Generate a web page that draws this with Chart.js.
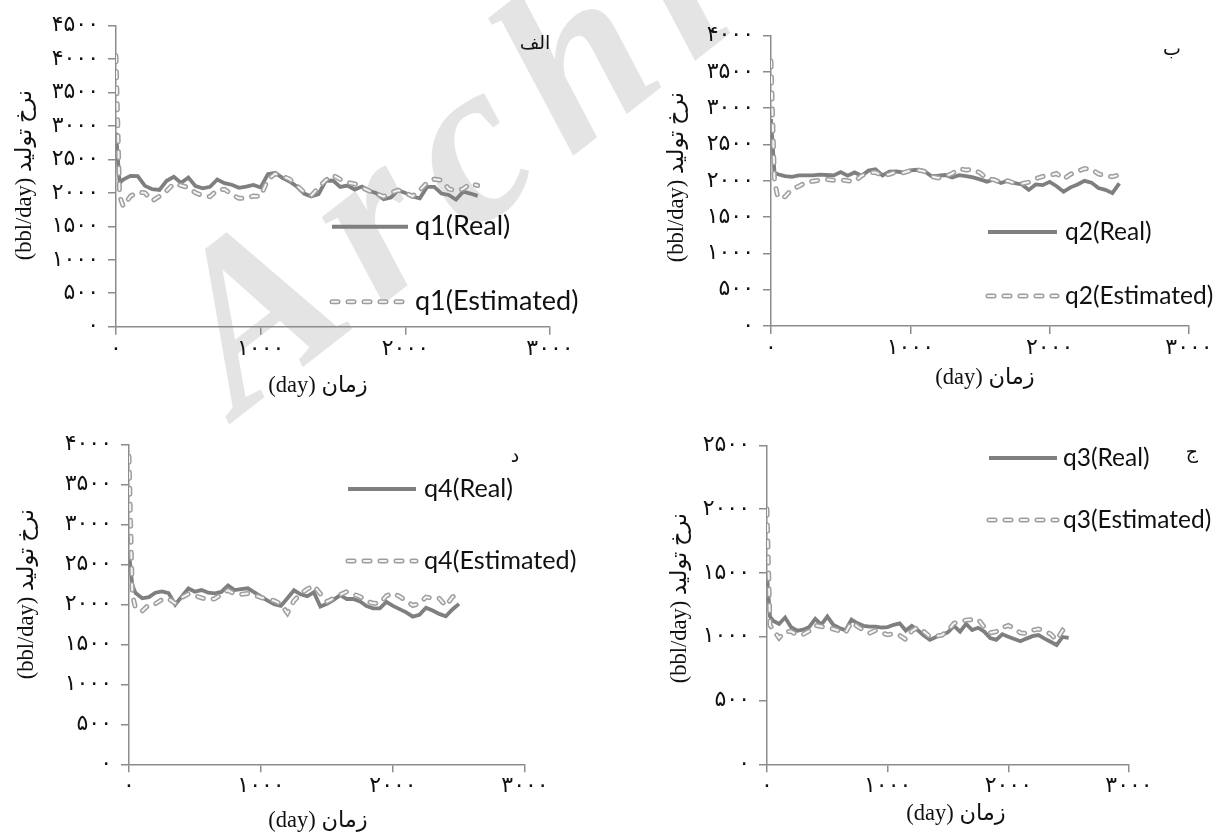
<!DOCTYPE html>
<html>
<head>
<meta charset="utf-8">
<script src="https://cdn.jsdelivr.net/npm/chart.js@4.4.0/dist/chart.umd.min.js"></script>
<style>
  body { margin: 0; background: #fff; width: 1221px; height: 834px; overflow: hidden; position: relative; }
  canvas { position: absolute; }
  .wm {
    position: absolute; left: 245px; top: 221px;
    font: italic bold 232px 'Liberation Serif', serif; color: #e4e4e4;
    line-height: 1; white-space: nowrap; letter-spacing: 24px;
    transform-origin: 0 204px; transform: rotate(-38deg);
  }
</style>
</head>
<body>
<div class="wm">Archive</div>
<canvas id="c1" width="610" height="417" style="left:0;top:0"></canvas>
<canvas id="c2" width="611" height="417" style="left:610px;top:0"></canvas>
<canvas id="c3" width="610" height="417" style="left:0;top:417px"></canvas>
<canvas id="c4" width="611" height="417" style="left:610px;top:417px"></canvas>
<script>
// time axis (day), shared by all four wells
const days = [0, 25, 50, 100, 150, 200, 250, 300, 350, 400, 450, 500, 550, 600, 650, 700, 750, 800, 850, 900,
  950, 1000, 1050, 1100, 1150, 1200, 1250, 1300, 1350, 1400, 1450, 1500, 1550, 1600, 1650, 1700, 1750, 1800,
  1850, 1900, 1950, 2000, 2050, 2100, 2150, 2200, 2250, 2300, 2350, 2400, 2450, 2500];

const q1Real = [2900, 2150, 2200, 2255, 2250, 2105, 2055, 2044, 2180, 2240, 2150, 2230, 2100, 2068, 2090, 2200, 2145, 2122, 2075, 2092,
  2118, 2080, 2280, 2300, 2225, 2170, 2095, 1990, 1945, 1980, 2180, 2185, 2090, 2110, 2050, 2095, 2030, 1995, 1904, 1930,
  2040, 2000, 1945, 1920, 2090, 2090, 1990, 1969, 1900, 2019, 1990, 1955];
const q1Est = [4050, 1950, 1800, 1950, 2010, 2000, 1880, 1950, 2030, 2140, 2110, 2080, 2000, 1960, 1944, 2044, 2054, 1975, 1919, 1919,
  1954, 1948, 2200, 2285, 2250, 2205, 2110, 2010, 1960, 2080, 2190, 2265, 2200, 2155, 2135, 2080, 2030, 1990, 1944, 2000,
  2040, 2000, 1950, 2040, 2150, 2205, 2190, 2060, 2030, 2060, 2140, 2110];

const q2Real = [2850, 2110, 2090, 2065, 2055, 2075, 2075, 2075, 2085, 2080, 2075, 2120, 2070, 2115, 2070, 2140, 2160, 2075, 2125, 2128,
  2115, 2145, 2152, 2135, 2065, 2070, 2080, 2045, 2077, 2065, 2048, 2020, 1988, 2018, 1970, 2000, 1967, 1950, 1875, 1950,
  1940, 1985, 1925, 1850, 1910, 1950, 2000, 1975, 1900, 1875, 1830, 1965];
const q2Est = [3650, 1990, 1765, 1780, 1885, 1925, 1975, 1995, 2010, 2020, 2008, 2013, 2000, 1990, 2070, 2110, 2115, 2070, 2090, 2125,
  2110, 2140, 2150, 2130, 2060, 2040, 2060, 2100, 2165, 2150, 2155, 2110, 2030, 2015, 1975, 2000, 1965, 1960, 1980, 2030,
  2060, 2075, 2100, 2025, 2090, 2130, 2170, 2160, 2095, 2070, 2055, 2085];

const q3Real = [1480, 1157, 1125, 1100, 1150, 1074, 1047, 1055, 1076, 1140, 1095, 1158, 1092, 1068, 1050, 1134, 1105, 1085, 1079, 1079,
  1072, 1075, 1093, 1105, 1048, 1085, 1050, 1010, 975, 998, 1014, 1035, 1085, 1040, 1100, 1052, 1070, 1040, 990, 975,
  1019, 1000, 982, 964, 985, 1004, 1013, 985, 960, 935, 998, 990];
const q3Est = [2000, 1090, 1055, 990, 1040, 1040, 1015, 1018, 1045, 1090, 1080, 1070, 1060, 1045, 1030, 1115, 1080, 1050, 1028, 1050,
  1030, 1016, 1022, 1010, 978, 1045, 1075, 1040, 1000, 1005, 1012, 1050, 1105, 1118, 1130, 1133, 1136, 1075, 1030, 1040,
  1072, 1088, 1066, 1030, 1025, 1050, 1060, 1043, 1022, 974, 1050, 1013];

const q4Real = [2650, 2240, 2140, 2075, 2090, 2145, 2162, 2140, 1995, 2098, 2198, 2158, 2178, 2145, 2137, 2155, 2236, 2178, 2190, 2200,
  2150, 2095, 2045, 2000, 1980, 2075, 2175, 2125, 2100, 2150, 1972, 2006, 2056, 2115, 2066, 2067, 2035, 1978, 1950, 1950,
  2030, 1980, 1940, 1900, 1846, 1870, 1958, 1922, 1880, 1850, 1935, 2005];
const q4Est = [3850, 2120, 1950, 1915, 1995, 2006, 2060, 2070, 2012, 2085, 2130, 2108, 2080, 2058, 2070, 2125, 2175, 2130, 2125, 2135,
  2115, 2085, 2065, 2045, 2005, 1890, 2045, 2130, 2190, 2235, 2130, 2033, 2075, 2120, 2158, 2127, 2096, 2040, 2012, 2012,
  2105, 2140, 2098, 2045, 1985, 2010, 2090, 2076, 2075, 1980, 2090, 2150];

const xMax = 3000, xStep = 1000;
const yStep = 500;

const faDigits = '۰۱۲۳۴۵۶۷۸۹';
const toFa = v => String(v).replace(/\d/g, d => faDigits[d]);

const AXIS = '#8c8c8c';
const REAL = '#7f7f7f';
const EST_OUT = '#9e9e9e';
const EST_IN = '#f4f4f4';
const DASH = [6, 10];

const xTitle = '(day) زمان';
const yTitle = '(bbl/day) نرخ تولید';

// panel layout: canvas offset, plot area, legend & labels (page coordinates)
const panels = [
  { id: 'c1', ox: 0, oy: 0, w: 610, h: 417, area: [116, 550, 25.6, 326.7], yMax: 4500,
    real: q1Real, est: q1Est, name: 'q1', tag: 'الف', tagPos: [535, 44], legSize: 27,
    leg: { x1: 332, x2: 408, tx: 415, y1: 226.7, y2: 301.7 }, xt: [318, 386], yt: [25, 175] },
  { id: 'c2', ox: 610, oy: 0, w: 611, h: 417, area: [771, 1189, 35.6, 326], yMax: 4000,
    real: q2Real, est: q2Est, name: 'q2', tag: 'ب', tagPos: [1172, 50], legSize: 24.5,
    leg: { x1: 988, x2: 1057, tx: 1065, y1: 232, y2: 296 }, xt: [985, 378], yt: [677, 177] },
  { id: 'c3', ox: 0, oy: 417, w: 610, h: 417, area: [129, 525, 444.3, 764.3], yMax: 4000,
    real: q4Real, est: q4Est, name: 'q4', tag: 'د', tagPos: [515, 457], legSize: 25.2,
    leg: { x1: 348, x2: 416, tx: 424, y1: 489, y2: 561 }, xt: [318, 821], yt: [27, 594] },
  { id: 'c4', ox: 610, oy: 417, w: 611, h: 417, area: [767, 1129, 445.3, 764.3], yMax: 2500,
    real: q3Real, est: q3Est, name: 'q3', tag: 'ج', tagPos: [1192, 453], legSize: 24.5,
    leg: { x1: 989, x2: 1057, tx: 1063, y1: 458, y2: 520 }, xt: [956, 814], yt: [680, 598] }
];

function estStroke(ctx, x1, x2, y) {
  ctx.save();
  ctx.lineCap = 'round';
  ctx.setLineDash(DASH);
  ctx.strokeStyle = EST_OUT; ctx.lineWidth = 5;
  ctx.beginPath(); ctx.moveTo(x1, y); ctx.lineTo(x2, y); ctx.stroke();
  ctx.strokeStyle = EST_IN; ctx.lineWidth = 2;
  ctx.beginPath(); ctx.moveTo(x1, y); ctx.lineTo(x2, y); ctx.stroke();
  ctx.restore();
}

const decor = {
  id: 'decor',
  afterDraw(chart) {
    const p = chart.$panel;
    const ctx = chart.ctx;
    const X = v => v - p.ox, Y = v => v - p.oy;
    ctx.save();
    // legend
    ctx.strokeStyle = REAL; ctx.lineWidth = 4;
    ctx.beginPath(); ctx.moveTo(X(p.leg.x1), Y(p.leg.y1)); ctx.lineTo(X(p.leg.x2), Y(p.leg.y1)); ctx.stroke();
    estStroke(ctx, X(p.leg.x1), X(p.leg.x2), Y(p.leg.y2));
    ctx.fillStyle = '#111';
    ctx.font = p.legSize + 'px Lato, "Open Sans", sans-serif';
    ctx.textAlign = 'left'; ctx.textBaseline = 'middle';
    ctx.fillText(p.name + '(Real)', X(p.leg.tx), Y(p.leg.y1));
    ctx.fillText(p.name + '(Estimated)', X(p.leg.tx), Y(p.leg.y2));
    // panel tag
    ctx.textAlign = 'center';
    ctx.font = '19px "DejaVu Sans", sans-serif';
    ctx.fillText(p.tag, X(p.tagPos[0]), Y(p.tagPos[1]));
    // axis titles
    ctx.font = '22.5px "Liberation Serif", "DejaVu Sans", serif';
    ctx.fillText(xTitle, X(p.xt[0]), Y(p.xt[1]));
    ctx.translate(X(p.yt[0]), Y(p.yt[1]));
    ctx.rotate(-Math.PI / 2);
    ctx.fillText(yTitle, 0, 0);
    ctx.restore();
  }
};

const tickFont = { family: '"DejaVu Sans", sans-serif', size: 22 };

panels.forEach(p => {
  const [L, R, T, B] = p.area;
  const pts = vals => days.map((d, i) => ({ x: d, y: vals[i] }));
  new Chart(document.getElementById(p.id), {
    type: 'line',
    data: {
      datasets: [
        { label: p.name + '(Real)', data: pts(p.real), borderColor: REAL, borderWidth: 3.8,
          pointRadius: 0, tension: 0, order: 3 },
        { label: p.name + '(Estimated)', data: pts(p.est), borderColor: EST_OUT, borderWidth: 5,
          borderDash: DASH, borderCapStyle: 'round', pointRadius: 0, tension: 0, order: 2 },
        { label: '', data: pts(p.est), borderColor: EST_IN, borderWidth: 2,
          borderDash: DASH, borderCapStyle: 'round', pointRadius: 0, tension: 0, order: 1 }
      ]
    },
    options: {
      responsive: false,
      animation: false,
      devicePixelRatio: 1,
      layout: { padding: { left: 0, top: T - p.oy, right: p.w - (R - p.ox), bottom: 0 } },
      plugins: { legend: { display: false }, tooltip: { enabled: false } },
      scales: {
        x: {
          type: 'linear', min: 0, max: xMax,
          afterFit: s => { s.height = p.h - (B - p.oy); },
          ticks: { stepSize: xStep, callback: toFa, font: tickFont, color: '#111', padding: 1, maxRotation: 0 },
          grid: { drawOnChartArea: false, drawTicks: true, tickLength: 8, color: AXIS, lineWidth: 1.5 },
          border: { color: AXIS, width: 1.5 }
        },
        y: {
          min: 0, max: p.yMax,
          afterFit: s => { s.width = L - p.ox; },
          ticks: { stepSize: yStep, callback: toFa, font: tickFont, color: '#111', padding: 9 },
          grid: { drawOnChartArea: false, drawTicks: true, tickLength: 8, color: AXIS, lineWidth: 1.5 },
          border: { color: AXIS, width: 1.5 }
        }
      }
    },
    plugins: [{ id: 'panelRef', beforeInit(c) { c.$panel = p; } }, decor]
  });
});
</script>
</body>
</html>
